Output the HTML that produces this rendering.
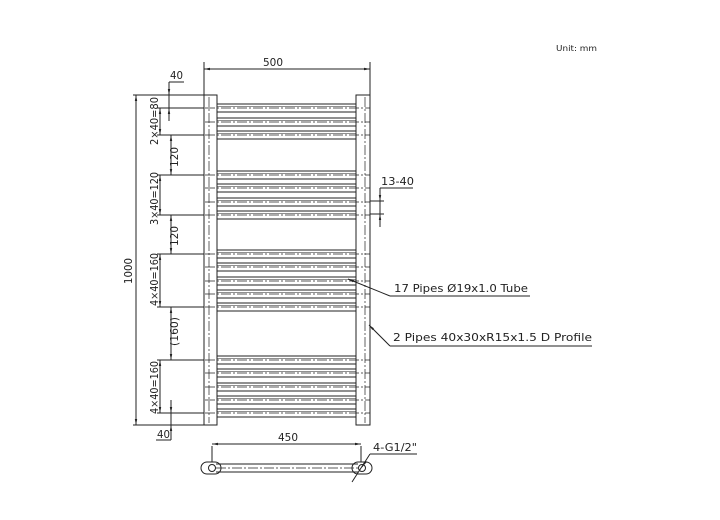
<!DOCTYPE html>
<html><head><meta charset="utf-8"><style>
html,body{margin:0;padding:0;background:#fff;}
svg{display:block;}
text{font-family:"DejaVu Sans","Liberation Sans",sans-serif;font-size:11px;fill:#222;}
</style></head><body>
<svg id="s" width="720" height="520" viewBox="0 0 720 520" xmlns="http://www.w3.org/2000/svg" stroke="#222" stroke-width="1" fill="none">
<defs>
<marker id="a" viewBox="0 0 10 10" refX="10" refY="5" markerWidth="6" markerHeight="6" orient="auto-start-reverse"><path d="M0,3L10,5L0,7z" fill="#222" stroke="none"/></marker>
</defs>
<rect x="204" y="95" width="13" height="330"/>
<rect x="356" y="95" width="14" height="330"/>
<line x1="209" y1="97" x2="209" y2="423" stroke-dasharray="10,2,2,2" stroke-width="0.7"/>
<line x1="365" y1="97" x2="365" y2="423" stroke-dasharray="10,2,2,2" stroke-width="0.7"/>
<g id="bars"></g>
<line x1="204" y1="62" x2="204" y2="95"/>
<line x1="370" y1="62" x2="370" y2="95"/>
<line x1="204" y1="69" x2="370" y2="69" marker-start="url(#a)" marker-end="url(#a)"/>
<text x="263" y="66" stroke="none" textLength="20" lengthAdjust="spacingAndGlyphs">500</text>
<text x="170" y="79" stroke="none" textLength="13" lengthAdjust="spacingAndGlyphs">40</text>
<line x1="169" y1="82" x2="184" y2="82"/>
<line x1="169" y1="82" x2="169" y2="121"/>
<line x1="169" y1="87" x2="169" y2="95" marker-end="url(#a)"/>
<line x1="169" y1="116" x2="169" y2="108" marker-end="url(#a)"/>
<line x1="133" y1="95" x2="204" y2="95"/>
<line x1="133" y1="425" x2="204" y2="425"/>
<line x1="136" y1="95" x2="136" y2="425" marker-start="url(#a)" marker-end="url(#a)"/>
<text transform="translate(132,284) rotate(-90)" stroke="none" textLength="26" lengthAdjust="spacingAndGlyphs">1000</text>
<g id="dims"></g>
<text transform="translate(158,145) rotate(-90)" stroke="none" textLength="48" lengthAdjust="spacingAndGlyphs">2×40=80</text>
<text transform="translate(178,167) rotate(-90)" stroke="none" textLength="20" lengthAdjust="spacingAndGlyphs">120</text>
<text transform="translate(158,225) rotate(-90)" stroke="none" textLength="53" lengthAdjust="spacingAndGlyphs">3×40=120</text>
<text transform="translate(178,246) rotate(-90)" stroke="none" textLength="20" lengthAdjust="spacingAndGlyphs">120</text>
<text transform="translate(158,306) rotate(-90)" stroke="none" textLength="53" lengthAdjust="spacingAndGlyphs">4×40=160</text>
<text transform="translate(178,346) rotate(-90)" stroke="none" textLength="29" lengthAdjust="spacingAndGlyphs">(160)</text>
<text transform="translate(158,414) rotate(-90)" stroke="none" textLength="53" lengthAdjust="spacingAndGlyphs">4×40=160</text>
<line x1="171" y1="400" x2="171" y2="440"/>
<line x1="171" y1="405" x2="171" y2="413" marker-end="url(#a)"/>
<line x1="171" y1="430" x2="171" y2="425" marker-end="url(#a)"/>
<line x1="156" y1="440" x2="171" y2="440"/>
<text x="157" y="438" stroke="none" textLength="13" lengthAdjust="spacingAndGlyphs">40</text>
<text x="381" y="185" stroke="none" textLength="33" lengthAdjust="spacingAndGlyphs">13-40</text>
<line x1="380" y1="188" x2="413" y2="188"/>
<line x1="380" y1="188" x2="380" y2="227"/>
<line x1="370" y1="201" x2="384" y2="201"/>
<line x1="370" y1="214" x2="384" y2="214"/>
<line x1="380" y1="193" x2="380" y2="201" marker-end="url(#a)"/>
<line x1="380" y1="222" x2="380" y2="214" marker-end="url(#a)"/>
<text x="394" y="292" stroke="none" textLength="134" lengthAdjust="spacingAndGlyphs">17 Pipes Ø19x1.0 Tube</text>
<line x1="390" y1="296" x2="530" y2="296"/>
<line x1="390" y1="296" x2="348" y2="279" marker-end="url(#a)"/>
<text x="393" y="341" stroke="none" textLength="199" lengthAdjust="spacingAndGlyphs">2 Pipes 40x30xR15x1.5 D Profile</text>
<line x1="390" y1="346" x2="592" y2="346"/>
<line x1="390" y1="346" x2="369" y2="325" marker-end="url(#a)"/>
<text x="556" y="51" stroke="none" style="font-size:8px" textLength="41" lengthAdjust="spacingAndGlyphs">Unit: mm</text>
<line x1="212" y1="446" x2="212" y2="462"/>
<line x1="361" y1="446" x2="361" y2="462"/>
<line x1="212" y1="444" x2="361" y2="444" marker-start="url(#a)" marker-end="url(#a)"/>
<text x="278" y="441" stroke="none" textLength="20" lengthAdjust="spacingAndGlyphs">450</text>
<line x1="216" y1="464" x2="358" y2="464"/>
<line x1="216" y1="472" x2="358" y2="472"/>
<line x1="216" y1="468" x2="358" y2="468" stroke-dasharray="10,2,2,2" stroke-width="0.7"/>
<path d="M207,462 h8 a6,6 0 0 1 0,12 h-8 a6,6 0 0 1 0,-12z"/>
<circle cx="212" cy="468" r="3.5"/>
<path d="M358,462 h8 a6,6 0 0 1 0,12 h-8 a6,6 0 0 1 0,-12z"/>
<circle cx="362" cy="468" r="3.5"/>
<text x="373" y="451" stroke="none" textLength="44" lengthAdjust="spacingAndGlyphs">4-G1/2"</text>
<line x1="370" y1="454" x2="417" y2="454"/>
<line x1="352" y1="482" x2="370" y2="454"/>
<line x1="366" y1="461" x2="362" y2="467" marker-end="url(#a)"/>
</svg>
<script>
var ns="http://www.w3.org/2000/svg";
function L(p,x1,y1,x2,y2,extra){var l=document.createElementNS(ns,"line");l.setAttribute("x1",x1);l.setAttribute("y1",y1);l.setAttribute("x2",x2);l.setAttribute("y2",y2);if(extra)for(var k in extra)l.setAttribute(k,extra[k]);p.appendChild(l);return l;}
var g=document.getElementById("bars");
var ys=[108,122,135,175,188,202,215,254,267,281,294,307,360,373,387,400,413];
ys.forEach(function(y){
 L(g,217,y-4,356,y-4);L(g,217,y+4,356,y+4);
 L(g,217,y-1.5,356,y-1.5,{"stroke-width":"0.6"});
 L(g,205,y,370,y,{"stroke-dasharray":"10,2,2,2","stroke-width":"0.7"});
});
var d=document.getElementById("dims");
[[108,135],[175,215],[254,307],[360,413]].forEach(function(a){
 L(d,157,a[0],204,a[0]);L(d,157,a[1],204,a[1]);
 L(d,160,a[0],160,a[1],{"marker-start":"url(#a)","marker-end":"url(#a)"});
});
[[135,175],[215,254],[307,360]].forEach(function(a){
 L(d,171,a[0],171,a[1],{"marker-start":"url(#a)","marker-end":"url(#a)"});
});
</script>
</body></html>
